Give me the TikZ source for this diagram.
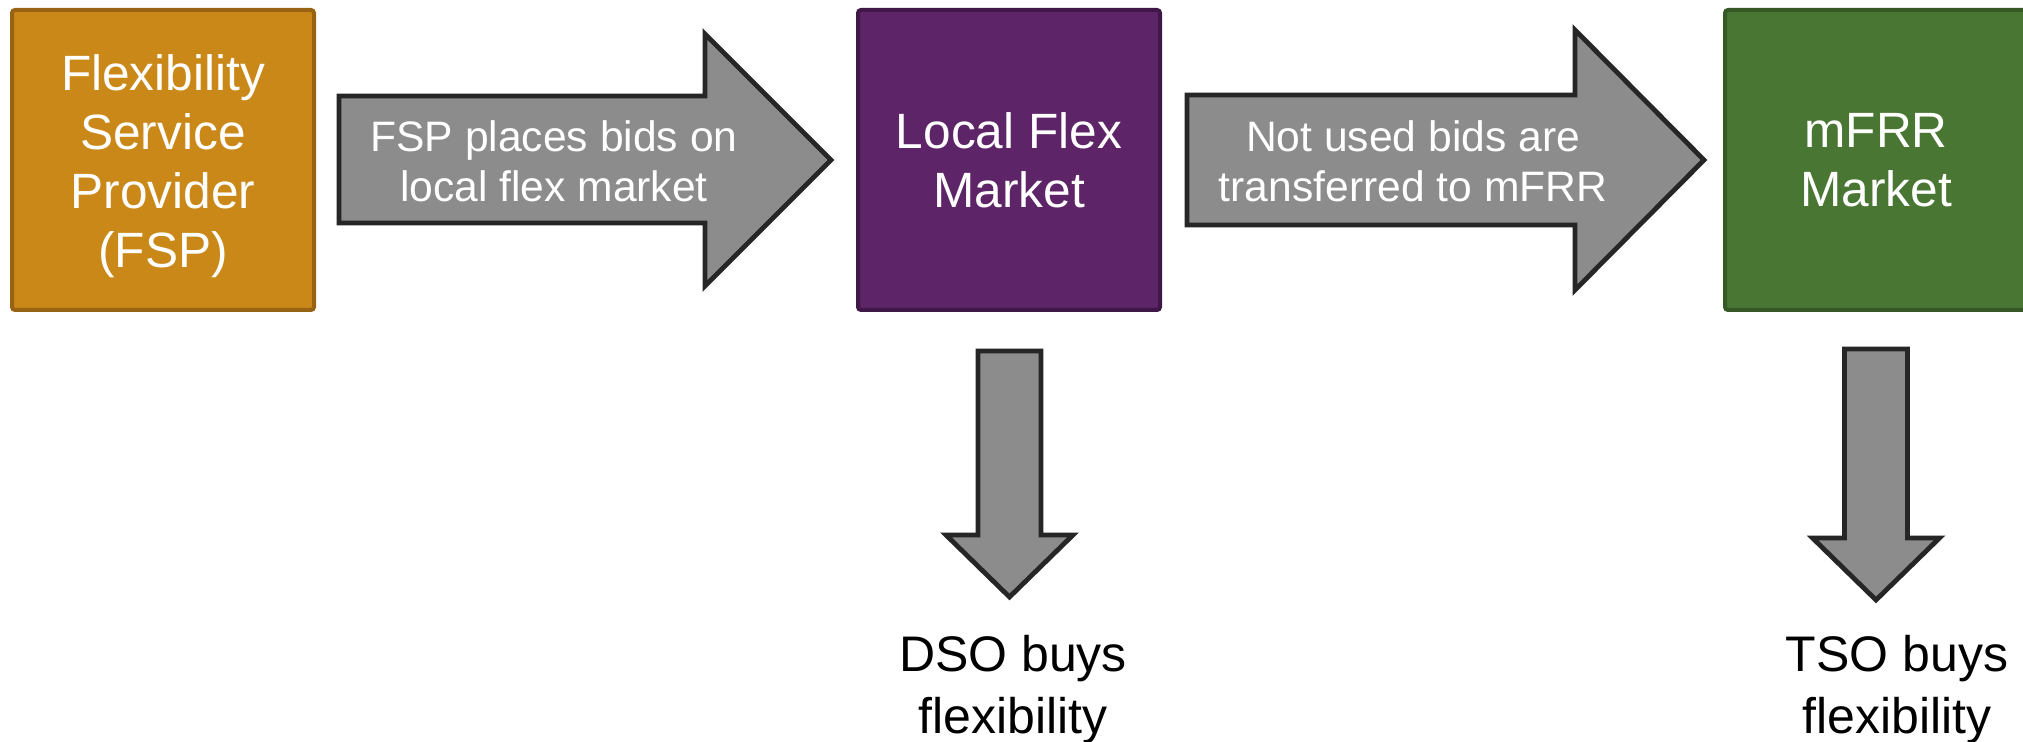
\documentclass[tikz,border=0pt]{standalone}
\usepackage{fontspec}
\setmainfont{Liberation Sans}
\usetikzlibrary{positioning}

\definecolor{fspfill}{RGB}{202,136,25}
\definecolor{fspline}{RGB}{152,99,18}
\definecolor{lfmfill}{RGB}{93,36,103}
\definecolor{lfmline}{RGB}{64,24,72}
\definecolor{mfrrfill}{RGB}{74,118,52}
\definecolor{mfrrline}{RGB}{54,88,38}
\definecolor{arrowfill}{RGB}{140,140,140}
\definecolor{arrowline}{RGB}{38,38,38}

\tikzset{
  market/.style = {rectangle, rounded corners=1.5pt, minimum width=151pt, minimum height=150pt,
                   inner sep=0pt, align=center, text=white, line width=2pt,
                   font=\fontsize{24.8}{29.5}\selectfont},
  boxtext/.style = {align=center, text=white, inner sep=0pt, font=\fontsize{24.8}{29.5}\selectfont},
  blockarrow/.style = {fill=arrowfill, draw=arrowline, line width=2.4pt, line join=miter},
  arrowtext/.style = {align=center, text=white, inner sep=0pt, font=\fontsize{21.3}{25}\selectfont},
  buyer/.style = {align=center, text=black, inner sep=0pt, font=\fontsize{25}{31}\selectfont}
}

\begin{document}
\begin{tikzpicture}[x=0.5pt, y=-0.5pt]
\useasboundingbox (0,0) rectangle (2023,742);

% markets
\node (fsp)  [market, fill=fspfill,  draw=fspline]  at (163,160) {};
\node (fsplabel) [boxtext] at (163,166) {Flexibility\\Service\\Provider\\(FSP)};
\node (lfm)  [market, fill=lfmfill,  draw=lfmline]  at (1009,160) {Local Flex\\Market};
\node (mfrr) [market, fill=mfrrfill, draw=mfrrline] at (1876,160) {mFRR\\Market};

% horizontal block arrows
\draw [blockarrow] (339,96) -- (705,96) -- (705,34) -- (831,160) -- (705,286) -- (705,223) -- (339,223) -- cycle;
\draw [blockarrow] (1187,95) -- (1575,95) -- (1575,30) -- (1704,160) -- (1575,290) -- (1575,225) -- (1187,225) -- cycle;
\node (bid)      [arrowtext] at (554,161)  {FSP places bids on\\local flex market};
\node (transfer) [arrowtext] at (1413,161) {Not used bids are\\transferred to mFRR};

% downward block arrows
\draw [blockarrow] (978,351) -- (1041,351) -- (1041,535) -- (1073,535) -- (1009.5,597) -- (946,535) -- (978,535) -- cycle;
\draw [blockarrow] (1844.5,349) -- (1907.5,349) -- (1907.5,538) -- (1939.5,538) -- (1876,600) -- (1812.5,538) -- (1844.5,538) -- cycle;

% buyers
\node (dso) [buyer] at (1013,690) {DSO buys\\flexibility};
\node (tso) [buyer] at (1897,690) {TSO buys\\flexibility};
\end{tikzpicture}
\end{document}
